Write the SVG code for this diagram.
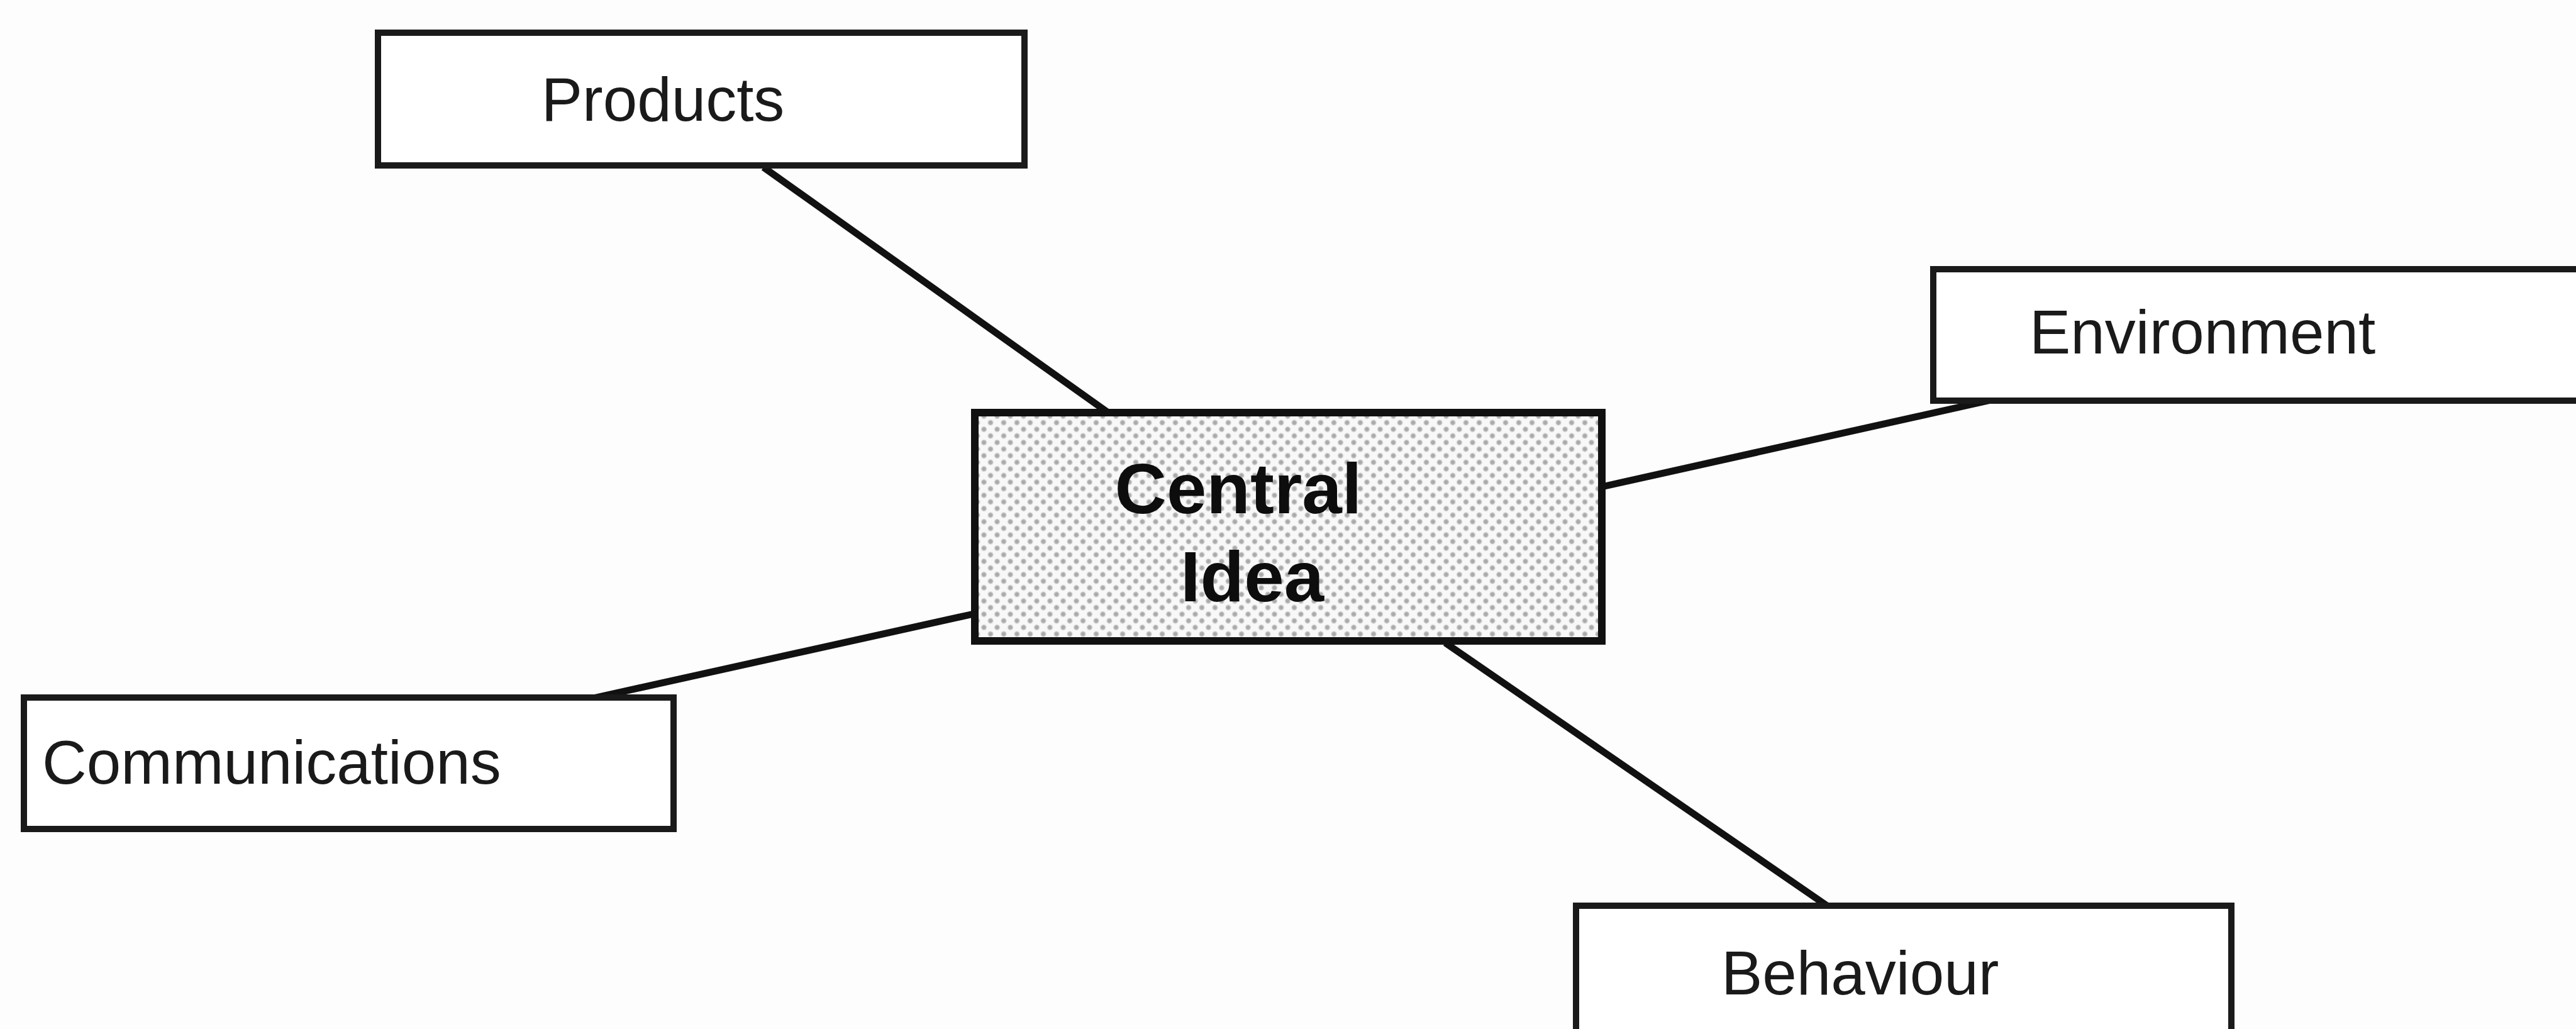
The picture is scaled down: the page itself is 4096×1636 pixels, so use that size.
<svg xmlns="http://www.w3.org/2000/svg" width="4096" height="1636" viewBox="0 0 4096 1636">
  <style>
    .box { fill: #ffffff; stroke: #1a1a1a; stroke-width: 10; }
    .hub { fill: url(#dots); stroke: #111111; stroke-width: 12; }
    .link { stroke: #111111; stroke-width: 11; stroke-linecap: butt; fill: none; }
    .label { font-family: "Liberation Sans", Arial, Helvetica, sans-serif; font-size: 98px; fill: #1a1a1a; }
    .title { font-family: "Liberation Sans", Arial, Helvetica, sans-serif; font-size: 114px; font-weight: bold; fill: #0d0d0d; }
  </style>
  <defs>
    <radialGradient id="dotShade">
      <stop offset="0" stop-color="#a0a0a0"/>
      <stop offset="0.55" stop-color="#b8b8b8"/>
      <stop offset="1" stop-color="#ffffff" stop-opacity="0"/>
    </radialGradient>
    <!-- staggered halftone screen for the central box -->
    <pattern id="dots" width="21" height="21" patternUnits="userSpaceOnUse">
      <rect width="21" height="21" fill="#f8f8f8"/>
      <circle cx="0" cy="0" r="6" fill="url(#dotShade)"/>
      <circle cx="21" cy="0" r="6" fill="url(#dotShade)"/>
      <circle cx="0" cy="21" r="6" fill="url(#dotShade)"/>
      <circle cx="21" cy="21" r="6" fill="url(#dotShade)"/>
      <circle cx="10.5" cy="10.5" r="6" fill="url(#dotShade)"/>
    </pattern>
  </defs>

  <rect width="4096" height="1636" fill="#fdfdfd"/>

  <g id="connectors">
    <line class="link" x1="1214" y1="266" x2="1762" y2="656"/>
    <line class="link" x1="2547" y1="774" x2="3175" y2="634"/>
    <line class="link" x1="1553" y1="975" x2="934" y2="1112"/>
    <line class="link" x1="2298" y1="1022" x2="2908" y2="1442"/>
  </g>

  <g id="products">
    <rect class="box" x="601" y="52" width="1028" height="211"/>
    <text class="label" x="1054" y="192" text-anchor="middle">Products</text>
  </g>

  <g id="central-idea">
    <rect class="hub" x="1550" y="656" width="997" height="363"/>
    <text class="title" x="1969" y="816" text-anchor="middle">Central</text>
    <text class="title" x="1991" y="956" text-anchor="middle">Idea</text>
  </g>

  <g id="environment">
    <rect class="box" x="3074" y="428" width="1060" height="209"/>
    <text class="label" x="3227" y="562">Environment</text>
  </g>

  <g id="communications">
    <rect class="box" x="38" y="1109" width="1033" height="209"/>
    <text class="label" x="67" y="1246">Communications</text>
  </g>

  <g id="behaviour">
    <rect class="box" x="2506" y="1440" width="1042" height="260"/>
    <text class="label" x="2737" y="1581">Behaviour</text>
  </g>
</svg>
